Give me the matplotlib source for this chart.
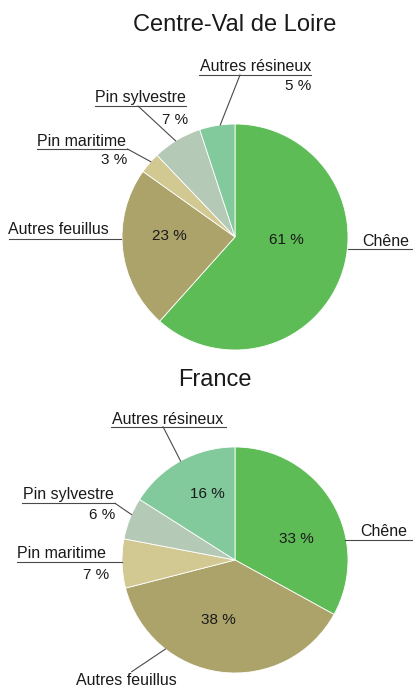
import numpy as np
import matplotlib.pyplot as plt

plt.rcParams['font.family'] = ['Liberation Sans', 'DejaVu Sans']

W, H = 413, 689  # figure size in pixels

especes = ["Chêne", "Autres feuillus", "Pin maritime", "Pin sylvestre", "Autres résineux"]
centre_val_de_loire = [61, 23, 3, 7, 5]
france = [33, 38, 7, 6, 16]
couleurs = ["#5ebc56", "#aca36a", "#d1c892", "#b5cab6", "#82c99c"]

# label layout, in pixels from the top left corner
# txt: left/baseline of the name, ul: underline (x0, x1, y),
# lead: (start of the leader, angle on the pie edge), pct: (x, baseline, ha)
haut = dict(
    titre="Centre-Val de Loire", titre_pos=(235, 31), centre=(235, 237), r=113,
    labels=[
        dict(txt=(362.5, 245.5), ul=(348, 413, 249.3), lead=None, pct=(286, 244.5, 'center')),
        dict(txt=(8.5, 234.5), ul=(9, 121, 239.3), lead=None, pct=(169, 239.5, 'center')),
        dict(txt=(36.7, 145.7), ul=(37, 127.5, 149), lead=((127.5, 149), 138.2), pct=(127.7, 163.8, 'right')),
        dict(txt=(95, 102.3), ul=(95, 186, 106), lead=((138, 106), 121.7), pct=(188, 124.5, 'right')),
        dict(txt=(199.5, 70.7), ul=(199, 311, 75), lead=((240, 75), 97.5), pct=(311.7, 89.8, 'right')),
    ])
bas = dict(
    titre="France", titre_pos=(215, 386.5), centre=(235, 560), r=113,
    labels=[
        dict(txt=(360, 535.7), ul=(345, 413, 540), lead=None, pct=(296, 542.8, 'center')),
        dict(txt=(76, 685), ul=None, lead=((131.7, 671.7), 232), pct=(218, 623.8, 'center')),
        dict(txt=(17.3, 558.3), ul=(17, 122, 561.7), lead=None, pct=(109, 578.8, 'right')),
        dict(txt=(22.7, 499.3), ul=(22, 115, 503.3), lead=((115, 503.3), 156.3), pct=(115, 518.8, 'right')),
        dict(txt=(111.7, 424), ul=(111, 226, 426.7), lead=((163, 426.7), 118.8), pct=(207.8, 498.2, 'center')),
    ])

texte = "#1a1a1a"
trait = "#4a4a4a"


def py(y):
    return H - y


fig = plt.figure(figsize=(W / 100, H / 100), dpi=100)
ax = fig.add_axes([0, 0, 1, 1])

for valeurs, lay in [(centre_val_de_loire, haut), (france, bas)]:
    cx, cy = lay['centre']
    r = lay['r']
    ax.pie(valeurs, colors=couleurs, startangle=90, counterclock=False,
           center=(cx, py(cy)), radius=r,
           wedgeprops=dict(edgecolor='white', linewidth=0.6))
    tx, ty = lay['titre_pos']
    ax.text(tx, py(ty), lay['titre'], fontsize=17, color=texte,
            ha='center', va='baseline')
    for nom, v, lab in zip(especes, valeurs, lay['labels']):
        x, y = lab['txt']
        ax.text(x, py(y), nom, fontsize=11.5, color=texte, ha='left', va='baseline')
        if lab['ul'] is not None:
            x0, x1, yu = lab['ul']
            ax.plot([x0, x1], [py(yu), py(yu)], color=trait, lw=0.8)
        if lab['lead'] is not None:
            (sx, sy), ang = lab['lead']
            ex = cx + r * np.cos(np.radians(ang))
            ey = py(cy) + r * np.sin(np.radians(ang))
            ax.plot([sx, ex], [py(sy), ey], color=trait, lw=0.8)
        px, pyy, ha = lab['pct']
        ax.text(px, py(pyy), "%d %%" % v, fontsize=11, color=texte, ha=ha, va='baseline')

ax.set_xlim(0, W)
ax.set_ylim(0, H)
ax.set_aspect('auto')
ax.axis('off')

fig.savefig("out.png", dpi=100, facecolor='white')
